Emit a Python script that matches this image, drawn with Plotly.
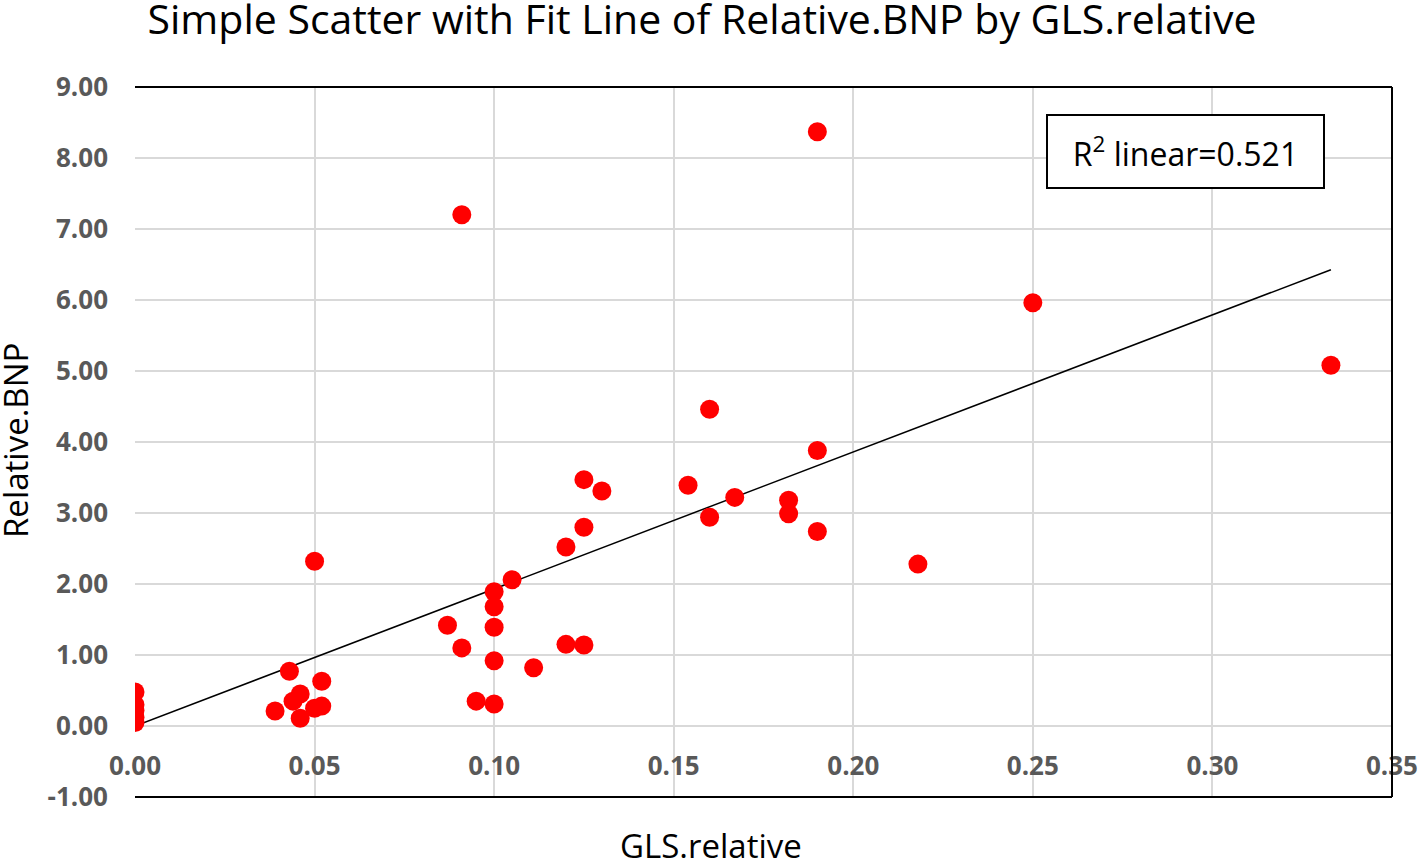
import plotly.graph_objects as go

gls_relative = [0.0, 0.0, 0.0, 0.0, 0.0,
                0.039, 0.043, 0.044, 0.046, 0.046, 0.050, 0.050, 0.052, 0.052,
                0.087, 0.091, 0.091, 0.095,
                0.100, 0.100, 0.100, 0.100, 0.100,
                0.105, 0.111, 0.120, 0.120, 0.125, 0.125, 0.125, 0.130,
                0.154, 0.160, 0.160, 0.167, 0.182, 0.182,
                0.190, 0.190, 0.190, 0.218, 0.250, 0.333]
relative_bnp = [0.48, 0.30, 0.22, 0.12, 0.05,
                0.21, 0.77, 0.35, 0.45, 0.11, 0.25, 2.32, 0.63, 0.28,
                1.42, 1.10, 7.20, 0.35,
                1.89, 1.68, 1.39, 0.92, 0.31,
                2.06, 0.82, 2.52, 1.15, 3.47, 2.80, 1.14, 3.31,
                3.39, 4.46, 2.94, 3.22, 3.18, 2.99,
                8.37, 3.88, 2.74, 2.28, 5.96, 5.08]

fit_slope = 19.3
fit_intercept = 0.0
r2_linear = 0.521

x_ticks = [0.00, 0.05, 0.10, 0.15, 0.20, 0.25, 0.30, 0.35]
y_ticks = [-1, 0, 1, 2, 3, 4, 5, 6, 7, 8, 9]

fit_x = [min(gls_relative), max(gls_relative)]
fit_y = [fit_intercept + fit_slope * v for v in fit_x]

FONT = "Open Sans"
TICK_FONT = dict(family=FONT, size=26, color="#595959", weight="bold")

fig = go.Figure()
fig.add_trace(go.Scatter(x=fit_x, y=fit_y, mode="lines",
                         line=dict(color="black", width=1.5), showlegend=False))
fig.add_trace(go.Scatter(x=gls_relative, y=relative_bnp, mode="markers",
                         marker=dict(color="#FF0000", size=19), showlegend=False))

fig.update_layout(
    width=1418, height=861,
    margin=dict(l=135, r=26, t=87, b=64, autoexpand=False),
    plot_bgcolor="white", paper_bgcolor="white",
    title=dict(text="Simple Scatter with Fit Line of Relative.BNP by GLS.relative",
               x=702 / 1418, xanchor="center", y=1 - 20 / 861, yanchor="middle",
               font=dict(family=FONT, size=41, color="black"), automargin=False),
    xaxis=dict(range=[0, 0.35001], tickvals=x_ticks, ticktext=[f"{v:.2f}" for v in x_ticks],
               anchor="free", position=0.1, showline=False, zeroline=False,
               showgrid=True, gridcolor="#d9d9d9", gridwidth=2, automargin=False,
               tickfont=TICK_FONT, ticks="", ticklabelstandoff=22),
    yaxis=dict(range=[-1, 9], tickvals=y_ticks, ticktext=[f"{v:.2f}" for v in y_ticks],
               showline=False, zeroline=False, automargin=False,
               showgrid=True, gridcolor="#d9d9d9", gridwidth=2,
               tickfont=TICK_FONT, ticks="", ticklabelstandoff=26),
    shapes=[
        dict(type="line", xref="x domain", yref="y domain", x0=0, x1=1, y0=1, y1=1,
             line=dict(color="black", width=2)),
        dict(type="line", xref="x domain", yref="y domain", x0=1, x1=1, y0=0, y1=1,
             line=dict(color="black", width=2)),
        dict(type="line", xref="x domain", yref="y domain", x0=0, x1=1, y0=0, y1=0,
             line=dict(color="black", width=2)),
    ],
    annotations=[
        dict(text="Relative.BNP", xref="paper", yref="paper", textangle=-90,
             x=(15 - 135) / 1257, y=1 - (441 - 87) / 710, xanchor="center", yanchor="middle",
             showarrow=False, font=dict(family=FONT, size=33, color="black")),
        dict(text="GLS.relative", xref="paper", yref="paper",
             x=(711 - 135) / 1257, y=-(846 - 797) / 710, xanchor="center", yanchor="middle",
             showarrow=False, font=dict(family=FONT, size=33, color="black")),
        dict(text=f"R<sup>2</sup> linear={r2_linear}", xref="paper", yref="paper",
             x=(1185.5 - 135) / 1257, y=1 - (151.5 - 87) / 710, xanchor="center", yanchor="middle",
             showarrow=False, font=dict(family=FONT, size=32, color="black"),
             width=247, height=43, align="center",
             bordercolor="black", borderwidth=2, borderpad=14, bgcolor="white"),
    ],
)

fig.write_html("out.html", config={"displayModeBar": False},
               post_script="document.body.style.margin='0';")
